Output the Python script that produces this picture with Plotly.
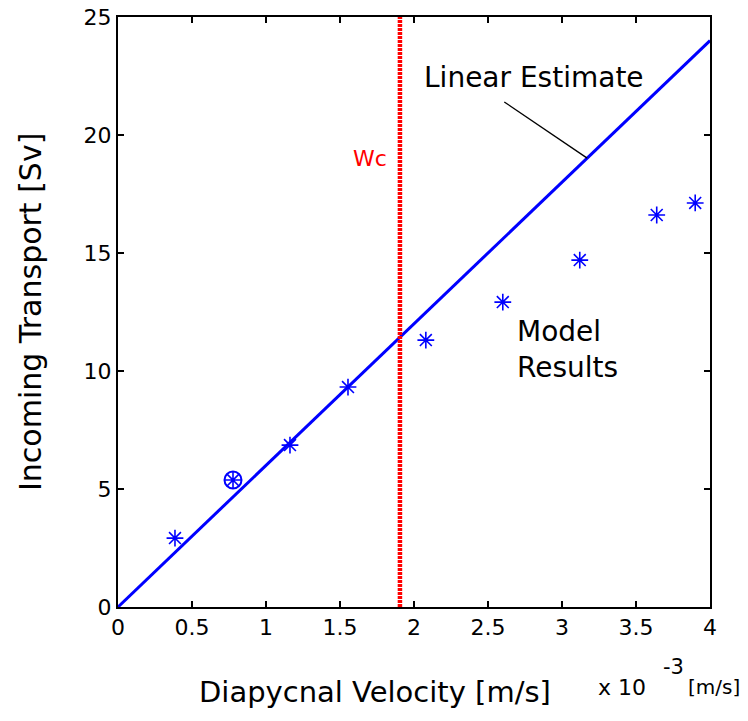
import plotly.graph_objects as go

# Data
model_x = [0.385, 0.777, 1.162, 1.554, 2.08, 2.60, 3.12, 3.64, 3.90]
model_y = [2.92, 5.38, 6.86, 9.32, 11.31, 12.92, 14.70, 16.61, 17.12]
highlight_x = [0.777]
highlight_y = [5.38]
linear_x = [0, 4]
linear_y = [0, 24]
wc = 1.905
wc_y = [0, 25]
x_ticks = [0, 0.5, 1, 1.5, 2, 2.5, 3, 3.5, 4]
x_ticktext = ["0", "0.5", "1", "1.5", "2", "2.5", "3", "3.5", "4"]
y_ticks = [0, 5, 10, 15, 20, 25]
y_ticktext = ["0", "5", "10", "15", "20", "25"]

FONT = "DejaVu Sans"
BLUE = "#0000ff"

L, R, T, B = 118, 38, 17, 114
W, H = 748, 721
PW, PH = W - L - R, H - T - B


def px(xp):
    return (xp - L) / PW


def py(yp):
    return (H - B - yp) / PH


fig = go.Figure()
fig.add_trace(go.Scatter(x=linear_x, y=linear_y, mode="lines",
                         line=dict(color=BLUE, width=3), showlegend=False, hoverinfo="skip"))
fig.add_trace(go.Scatter(x=[wc, wc], y=wc_y, mode="lines",
                         line=dict(color="red", width=4.5, dash="3px,1px"),
                         showlegend=False, hoverinfo="skip"))
fig.add_trace(go.Scatter(x=model_x, y=model_y, mode="markers",
                         marker=dict(symbol="asterisk-open", size=14, color=BLUE,
                                     line=dict(color=BLUE, width=1.6)),
                         showlegend=False))
fig.add_trace(go.Scatter(x=highlight_x, y=highlight_y, mode="markers",
                         marker=dict(symbol="circle-open", size=17, color=BLUE,
                                     line=dict(color=BLUE, width=2)),
                         showlegend=False))

axis_common = dict(showgrid=False, zeroline=False, ticks="inside", ticklen=6,
                   tickwidth=1.5, tickcolor="black", showline=True, linecolor="black",
                   linewidth=2, mirror="ticks", automargin=False,
                   tickfont=dict(family=FONT, size=22, color="black"))

fig.update_xaxes(range=[0, 4], tickvals=x_ticks, ticktext=x_ticktext, **axis_common)
fig.update_yaxes(range=[0, 25], tickvals=y_ticks, ticktext=y_ticktext, **axis_common)

annotations = [
    dict(x=2.81, y=22.45, xref="x", yref="y", text="Linear Estimate", showarrow=False,
         font=dict(family=FONT, size=28, color="black")),
    dict(x=1.70, y=18.99, xref="x", yref="y", text="Wc", showarrow=False,
         font=dict(family=FONT, size=22, color="red")),
    dict(x=2.68, y=10.9, xref="x", yref="y", text="Model<br>Results", showarrow=False,
         xanchor="left", align="left", font=dict(family=FONT, size=28, color="black")),
    dict(x=px(375), y=py(692), xref="paper", yref="paper", text="Diapycnal Velocity [m/s]",
         showarrow=False, xanchor="center", yanchor="middle",
         font=dict(family=FONT, size=29, color="black")),
    dict(x=px(30), y=py(312), xref="paper", yref="paper", text="Incoming Transport [Sv]",
         showarrow=False, textangle=-90, xanchor="center", yanchor="middle",
         font=dict(family=FONT, size=30, color="black")),
    dict(x=px(596), y=py(687), xref="paper", yref="paper", text="x 10",
         showarrow=False, xanchor="left", yanchor="middle",
         font=dict(family=FONT, size=22, color="black")),
    dict(x=px(661), y=py(667), xref="paper", yref="paper", text="-3",
         showarrow=False, xanchor="left", yanchor="middle",
         font=dict(family=FONT, size=21, color="black")),
    dict(x=px(686), y=py(687), xref="paper", yref="paper", text="[m/s]",
         showarrow=False, xanchor="left", yanchor="middle",
         font=dict(family=FONT, size=20, color="black")),
]

fig.update_layout(
    width=W, height=H,
    margin=dict(l=L, r=R, t=T, b=B),
    plot_bgcolor="white", paper_bgcolor="white",
    annotations=annotations,
    shapes=[dict(type="line", xref="x", yref="y", x0=2.61, y0=21.4, x1=3.17, y1=19.02,
                 line=dict(color="black", width=1.3))],
)

fig.write_html("out.html")
